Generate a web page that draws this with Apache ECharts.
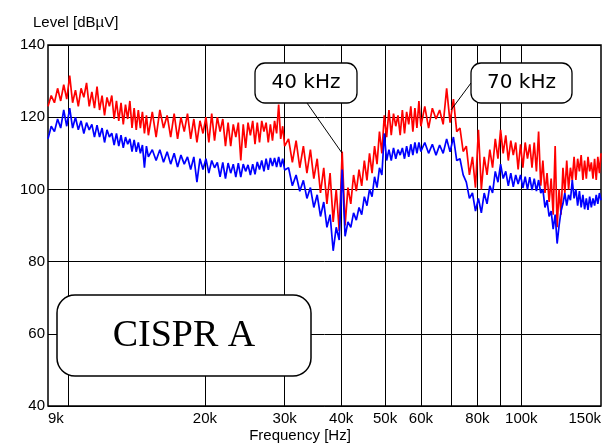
<!DOCTYPE html>
<html>
<head>
<meta charset="utf-8">
<script src="https://cdn.jsdelivr.net/npm/echarts@6/dist/echarts.min.js"></script>
<style>
  html, body { margin: 0; background: #fff; }
  #main { width: 604px; height: 443px; }
</style>
</head>
<body>
<div id="main"></div>
<script>
// sweep frequencies in kHz
var freqKHz = [
  9.00, 9.15, 9.30, 9.45, 9.60, 9.75, 9.90, 10.05, 10.20, 10.35, 10.50, 10.65, 10.80, 10.95,
  11.10, 11.25, 11.40, 11.55, 11.70, 11.85, 12.00, 12.15, 12.30, 12.45, 12.60, 12.75, 12.90,
  13.05, 13.20, 13.35, 13.50, 13.65, 13.80, 13.95, 14.10, 14.25, 14.40, 14.55, 14.70, 14.85, 15.00,
  15.3, 15.6, 15.9, 16.2, 16.5, 16.8, 17.1, 17.4, 17.7, 18.0, 18.3, 18.6, 18.9, 19.2, 19.5, 19.8,
  20.1, 20.4, 20.7, 21.0, 21.3, 21.6, 21.9, 22.2, 22.5, 22.8, 23.1, 23.4, 23.7, 24.0, 24.3, 24.6,
  24.9, 25.2, 25.5, 25.8, 26.1, 26.4, 26.7, 27.0, 27.3, 27.6, 27.9, 28.2, 28.5, 28.8, 29.1, 29.4,
  29.7, 30.0,
  30.6, 31.2, 31.8, 32.4, 33.0, 33.6, 34.2, 34.8, 35.4, 36.0, 36.6, 37.2, 37.8, 38.4, 39.0, 39.6,
  40.2, 40.8, 41.4, 42.0, 42.6, 43.2, 43.8, 44.4, 45.0, 45.6, 46.2, 46.8, 47.4, 48.0, 48.6, 49.2,
  49.8, 50.4, 51.0, 51.6, 52.2, 52.8, 53.4, 54.0, 54.6, 55.2, 55.8, 56.4, 57.0, 57.6, 58.2, 58.8,
  59.4, 60.0,
  61.2, 62.4, 63.6, 64.8, 66.0, 67.2, 68.4, 69.6, 70.8, 72.0, 73.2, 74.4, 75.6, 76.8, 78.0, 79.2,
  80.4, 81.6, 82.8, 84.0, 85.2, 86.4, 87.6, 88.8, 90.0, 91.2, 92.4, 93.6, 94.8, 96.0, 97.2, 98.4,
  99.6, 100.8, 102.0, 103.2, 104.4, 105.6, 106.8, 108.0, 109.2, 110.4, 111.6, 112.8, 114.0, 115.2,
  116.4, 117.6, 118.8, 120.0,
  121.2, 122.4, 123.6, 124.8, 126.0, 127.2, 128.4, 129.6, 130.8, 132.0, 133.2, 134.4, 135.6, 136.8,
  138.0, 139.2, 140.4, 141.6, 142.8, 144.0, 145.2, 146.4, 147.6, 148.8, 150.0
];

// level in dBµV, red trace
var redLevel = [
  123, 126, 124, 128, 124.5, 129, 125, 131.5, 124, 127.5, 123, 128, 125.5, 129.5, 123, 127, 122.5,
  128.5, 122, 126, 120.5, 125.5, 123, 126, 119.5, 124.5, 119, 124, 118, 123.5, 119.5, 124.5, 117,
  122.5, 116.5, 122, 117, 121.5, 115.5, 120.5, 115,
  121.5, 114.5, 122, 117, 120.5, 114.5, 121, 114, 120, 116, 121, 114, 119.5, 113, 119, 115.5, 120,
  113, 121, 113.5, 120, 116, 119.5, 112, 118.5, 112, 118, 114.5, 118.5, 108, 118, 111.5, 118.5, 115,
  119, 112.5, 118.5, 113, 119, 116, 118.5, 113, 118, 113.5, 119, 115.5, 123.5, 114, 117.5, 112,
  114, 107.5, 113.5, 106, 112, 104.5, 111, 103, 108.5, 99, 106, 96, 104.5, 91, 100, 88.5, 110.5, 90,
  100.5, 96, 104, 99.5, 105.5, 101, 108, 102.5, 110, 104.5, 112, 107, 116, 110, 120.5, 114.5, 122,
  115, 121, 117.5, 120.5, 115, 122, 115.5, 121.5, 118, 123, 116, 122.5, 117, 124.5, 117.5,
  123, 117, 122.5, 119.5, 122, 118, 128, 118.5, 125, 116, 117, 110.5, 112, 104, 109, 100.5, 116.5,
  100, 109, 104, 111, 106, 114, 108.5, 116.5, 110, 115, 108, 113.5, 109.5, 113, 105.5, 112.5, 106, 113,
  108.5, 112.5, 106, 113, 105, 116, 101, 108, 99, 104.5, 96.5, 103, 93, 112, 89.5,
  100, 93, 106, 99, 108, 100, 106, 102.5, 109, 102.6, 108.5, 105, 109.5, 102.6, 108, 103, 109, 105,
  107.5, 103, 108.5, 102.6, 109, 104.5, 110
];

// level in dBµV, blue trace
var blueLevel = [
  114, 117.5, 116, 119.5, 117, 122, 117.5, 122.5, 117, 120, 116.5, 119, 115.5, 118.5, 116.5, 118, 114.5,
  117.8, 114.5, 117, 113, 116.5, 114.5, 115.6, 112.3, 115.5, 112, 115, 111.5, 114.5, 112.5, 114, 110.5,
  113.7, 110.4, 113, 110, 112.3, 106, 112, 109,
  111, 108, 111, 107.5, 110.4, 107, 110, 106.2, 109.5, 107, 109, 105.5, 109, 102, 108.5, 105.5, 108.5,
  104.5, 108, 106, 107.5, 103.5, 107.5, 103, 107.3, 104.5, 107, 103.4, 107.3, 103.4, 107, 105, 106.8,
  104, 107, 104.2, 107.6, 105.5, 108, 105, 108.5, 105.4, 108.7, 106.5, 108.7, 106.2, 109, 106.2, 108.5,
  105.4,
  106, 101, 104, 99.5, 102.5, 97.5, 100.5, 95, 98.5, 92.5, 96.5, 89.5, 93, 83, 89.5, 86, 105.5, 87, 91,
  89.5, 93.5, 91.5, 95, 93, 98, 95.5, 100, 98, 103.5, 100.5, 106, 104, 115.5, 108, 111, 108, 111.5,
  108.5, 111, 109.5, 111.5, 108.5, 112, 109, 112.5, 109.5, 113, 110, 113, 110.5,
  113, 110, 112.5, 109.5, 112.3, 110, 114, 110.4, 114.5, 108, 108.5, 104, 102, 97.5, 99, 94, 97.5, 93.5,
  99, 96, 101, 99, 105, 102, 107, 103, 105, 101, 104.5, 100.7, 104, 101.5, 104, 100.4, 103.5, 100,
  103.4, 99.8, 103, 99.5, 102.6, 99, 100, 95, 97, 92.5, 94, 89, 93, 85,
  90, 94, 96, 99, 95.5, 98.5, 97, 102.6, 97.5, 100, 95.5, 99.5, 95, 98.5, 94.5, 97.5, 94.3, 98, 95,
  97.5, 95.5, 98.5, 96, 99, 97
];

var gridFreqs = [10, 20, 30, 40, 50, 60, 70, 80, 90, 100];
var labelFreqs = [9, 20, 30, 40, 50, 60, 80, 100, 150];

function lg(f) { return Math.log10(f); }
function pairs(vals) {
  return freqKHz.map(function (f, i) { return [lg(f), vals[i]]; });
}

var chart = echarts.init(document.getElementById('main'));
var txt = 'Liberation Sans, Arial, sans-serif';

chart.setOption({
  animation: false,
  backgroundColor: '#fff',
  grid: { left: 48, right: 3, top: 45, bottom: 37, show: true, borderColor: '#000', borderWidth: 1.5 },
  xAxis: {
    type: 'value', min: lg(9), max: lg(150),
    axisLine: { show: false },
    axisTick: { show: false, customValues: gridFreqs.map(lg) },
    splitLine: { show: true, lineStyle: { color: '#000', width: 1 } },
    axisLabel: {
      customValues: labelFreqs.map(lg),
      formatter: function (v) { return Math.round(Math.pow(10, v)) + 'k'; },
      color: '#000', fontFamily: txt, fontSize: 15, margin: 5,
      alignMinLabel: 'left', alignMaxLabel: 'right'
    }
  },
  yAxis: {
    type: 'value', min: 40, max: 140, interval: 20,
    axisLine: { show: false }, axisTick: { show: false },
    splitLine: { lineStyle: { color: '#000', width: 1 } },
    axisLabel: { color: '#000', fontFamily: txt, fontSize: 15, margin: 3 }
  },
  series: [
    { type: 'line', data: pairs(redLevel), symbol: 'none', lineStyle: { color: '#ff0000', width: 1.7 } },
    { type: 'line', data: pairs(blueLevel), symbol: 'none', lineStyle: { color: '#0000ff', width: 1.7 } }
  ],
  graphic: [
    { type: 'text', left: 33, top: 15, z: 100,
      style: { text: 'Level [dBµV]', font: '15px ' + txt, fill: '#000' } },
    { type: 'text', x: 300, y: 436, z: 100,
      style: { text: 'Frequency [Hz]', font: '15px ' + txt, fill: '#000', align: 'center', verticalAlign: 'middle' } },

    { type: 'line', z: 100, shape: { x1: 307, y1: 103, x2: 342, y2: 153 }, style: { stroke: '#000', lineWidth: 1 } },
    { type: 'rect', z: 100, shape: { x: 255, y: 63, width: 102, height: 40, r: 10 },
      style: { fill: '#fff', stroke: '#000', lineWidth: 1.3 } },
    { type: 'text', z: 101, x: 306, y: 83,
      style: { text: '40 kHz', font: '20px DejaVu Sans', fill: '#000', align: 'center', verticalAlign: 'middle' } },

    { type: 'line', z: 100, shape: { x1: 471, y1: 83, x2: 451, y2: 110 }, style: { stroke: '#000', lineWidth: 1 } },
    { type: 'rect', z: 100, shape: { x: 471, y: 63, width: 101, height: 40, r: 10 },
      style: { fill: '#fff', stroke: '#000', lineWidth: 1.3 } },
    { type: 'text', z: 101, x: 521.5, y: 83,
      style: { text: '70 kHz', font: '20px DejaVu Sans', fill: '#000', align: 'center', verticalAlign: 'middle' } },

    { type: 'rect', z: 100, shape: { x: 57, y: 295, width: 254, height: 81, r: 18 },
      style: { fill: '#fff', stroke: '#000', lineWidth: 1.5 } },
    { type: 'text', z: 101, x: 184, y: 336,
      style: { text: 'CISPR A', font: '38px Liberation Serif', fill: '#000', align: 'center', verticalAlign: 'middle' } }
  ]
});
</script>
</body>
</html>
